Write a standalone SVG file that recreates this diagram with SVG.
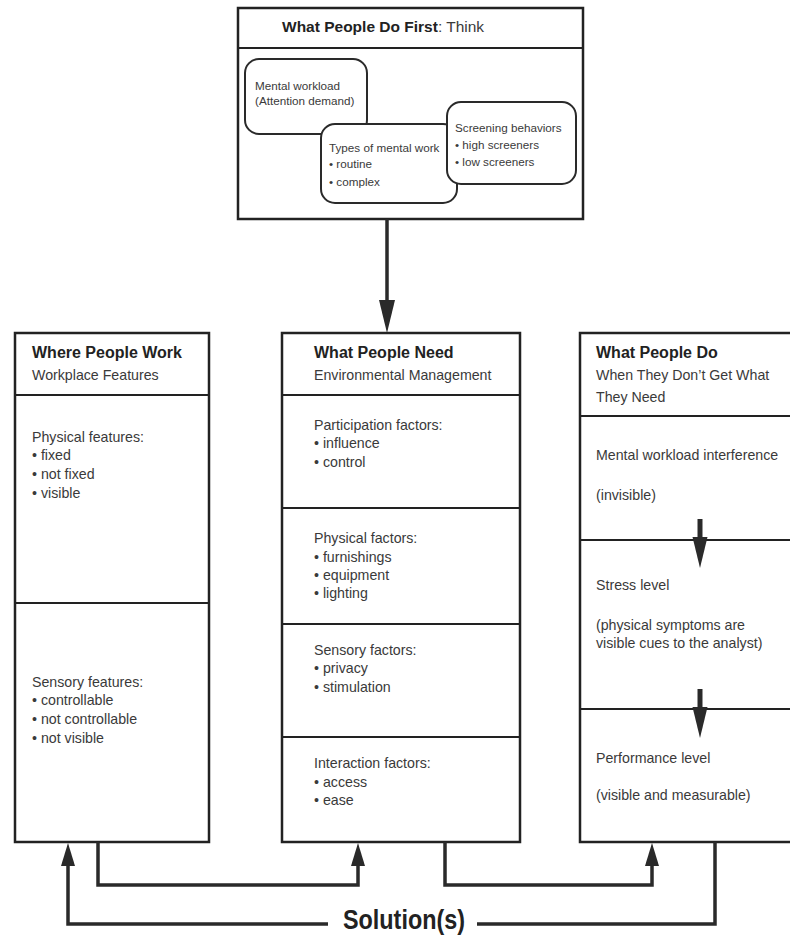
<svg xmlns="http://www.w3.org/2000/svg" width="790" height="936" viewBox="0 0 790 936">
<defs>
<style>
.box{fill:#fff;stroke:#222;stroke-width:2.5}
.div{stroke:#222;stroke-width:2.2;fill:none}
.rb{fill:#fff;stroke:#2a2a2a;stroke-width:2}
.t{font-family:"Liberation Sans",Arial,sans-serif;font-size:14.2px;fill:#3a3a3a}
.s{font-family:"Liberation Sans",Arial,sans-serif;font-size:11.7px;fill:#3a3a3a}
.h{font-family:"Liberation Sans",Arial,sans-serif;font-size:16px;font-weight:bold;fill:#222}
.th{font-family:"Liberation Sans",Arial,sans-serif;font-size:15.5px;fill:#3a3a3a}
.c{stroke:#2a2a2a;stroke-width:3.5;fill:none;stroke-linejoin:miter}
.ah{fill:#2a2a2a;stroke:none}
</style>
</defs>
<rect width="790" height="936" fill="#fff"/>

<g id="top-box">
<rect class="box" x="238" y="8" width="345" height="211"/>
<line class="div" x1="238" y1="48" x2="583" y2="48"/>
<text class="th" x="282" y="32"><tspan font-weight="bold" fill="#222">What People Do First</tspan>: Think</text>
<rect class="rb" x="245" y="59" width="122" height="75" rx="14"/>
<text class="s" x="255" y="90">Mental workload</text>
<text class="s" x="255" y="105">(Attention demand)</text>
<rect class="rb" x="321" y="124" width="136" height="79" rx="14"/>
<text class="s" x="329" y="152">Types of mental work</text>
<text class="s" x="329" y="168">• routine</text>
<text class="s" x="329" y="186">• complex</text>
<rect class="rb" x="447" y="102" width="129" height="82" rx="14"/>
<text class="s" x="455" y="132">Screening behaviors</text>
<text class="s" x="455" y="149">• high screeners</text>
<text class="s" x="455" y="166">• low screeners</text>
</g>

<g id="workplace">
<rect class="box" x="15" y="333" width="194" height="509"/>
<line class="div" x1="15" y1="395" x2="209" y2="395"/>
<line class="div" x1="15" y1="603" x2="209" y2="603"/>
<text class="h" x="32" y="358">Where People Work</text>
<text class="t" x="32" y="380">Workplace Features</text>
<text class="t" x="32" y="442">Physical features:</text>
<text class="t" x="32" y="460">• fixed</text>
<text class="t" x="32" y="479">• not fixed</text>
<text class="t" x="32" y="498">• visible</text>
<text class="t" x="32" y="687">Sensory features:</text>
<text class="t" x="32" y="705">• controllable</text>
<text class="t" x="32" y="724">• not controllable</text>
<text class="t" x="32" y="743">• not visible</text>
</g>

<g id="needs">
<rect class="box" x="282" y="333" width="238" height="509"/>
<line class="div" x1="282" y1="395" x2="520" y2="395"/>
<line class="div" x1="282" y1="508" x2="520" y2="508"/>
<line class="div" x1="282" y1="624" x2="520" y2="624"/>
<line class="div" x1="282" y1="737" x2="520" y2="737"/>
<text class="h" x="314" y="358">What People Need</text>
<text class="t" x="314" y="380">Environmental Management</text>
<text class="t" x="314" y="430">Participation factors:</text>
<text class="t" x="314" y="448">• influence</text>
<text class="t" x="314" y="467">• control</text>
<text class="t" x="314" y="543">Physical factors:</text>
<text class="t" x="314" y="562">• furnishings</text>
<text class="t" x="314" y="580">• equipment</text>
<text class="t" x="314" y="598">• lighting</text>
<text class="t" x="314" y="655">Sensory factors:</text>
<text class="t" x="314" y="673">• privacy</text>
<text class="t" x="314" y="692">• stimulation</text>
<text class="t" x="314" y="768">Interaction factors:</text>
<text class="t" x="314" y="787">• access</text>
<text class="t" x="314" y="805">• ease</text>
</g>

<g id="behavior">
<rect class="box" x="580" y="333" width="215" height="509"/>
<line class="div" x1="580" y1="416" x2="795" y2="416"/>
<line class="div" x1="580" y1="540" x2="795" y2="540"/>
<line class="div" x1="580" y1="709" x2="795" y2="709"/>
<text class="h" x="596" y="358">What People Do</text>
<text class="t" x="596" y="380">When They Don’t Get What</text>
<text class="t" x="596" y="402">They Need</text>
<text class="t" x="596" y="460">Mental workload interference</text>
<text class="t" x="596" y="500">(invisible)</text>
<text class="t" x="596" y="590">Stress level</text>
<text class="t" x="596" y="630">(physical symptoms are</text>
<text class="t" x="596" y="648">visible cues to the analyst)</text>
<text class="t" x="596" y="763">Performance level</text>
<text class="t" x="596" y="800">(visible and measurable)</text>
<line x1="700" y1="519" x2="700" y2="540" stroke="#2a2a2a" stroke-width="5"/>
<polygon class="ah" points="692.5,537 707.5,537 700,568"/>
<line x1="700" y1="689" x2="700" y2="709" stroke="#2a2a2a" stroke-width="5"/>
<polygon class="ah" points="692.5,707 707.5,707 700,738"/>
</g>

<g id="connectors">
<line class="c" x1="387" y1="219" x2="387" y2="305"/>
<polygon class="ah" points="379,300 395,300 387,333"/>
<polyline class="c" points="98,842 98,885 358,885 358,862"/>
<polygon class="ah" points="351,866 365,866 358,843"/>
<polyline class="c" points="445,842 445,885 652,885 652,862"/>
<polygon class="ah" points="645,866 659,866 652,843"/>
<polyline class="c" points="328,924 68,924 68,862"/>
<polygon class="ah" points="61,866 75,866 68,843"/>
<polyline class="c" points="477,924 715,924 715,842"/>
<text x="343" y="929" font-family="'Liberation Sans',Arial,sans-serif" font-size="28" font-weight="bold" fill="#222" textLength="122" lengthAdjust="spacingAndGlyphs">Solution(s)</text>
</g>
</svg>
